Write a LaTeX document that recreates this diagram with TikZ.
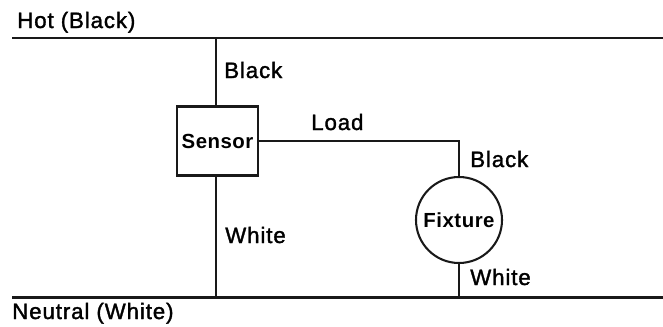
\documentclass[tikz,border=0pt]{standalone}
\usepackage{fontspec}
\setmainfont{Liberation Sans}
\newfontfamily\lblfont[LetterSpace=4,FakeBold=1.5]{Liberation Sans}
\newfontfamily\boxfont[LetterSpace=2.5]{Liberation Sans Bold}
\tikzset{wire/.style={draw=black!90,line width=1.55pt},
lbl/.style={font=\lblfont\fontsize{16.7}{18}\selectfont,inner sep=0pt,anchor=base west},
smalllbl/.style={font=\boxfont\fontsize{15.3}{17}\selectfont,inner sep=0pt}}
\begin{document}
\begin{tikzpicture}[x=0.75pt,y=-0.75pt]
\useasboundingbox (0,0) rectangle (663,326);
\node[wire,draw,line width=1.8pt,minimum width=81*0.75pt,minimum height=69*0.75pt,inner sep=0pt,smalllbl] (sensor) at (217.5,141) {Sensor};
\node[wire,draw,circle,minimum size=86*0.75pt,inner sep=0pt,smalllbl] (fixture) at (459,220) {Fixture};
\coordinate (hl) at (12,38); \coordinate (hr) at (663,38);
\coordinate (nl) at (12,297.5); \coordinate (nr) at (663,297.5);
\coordinate (hs) at (216,38); \coordinate (ns) at (216,297.5);
\coordinate (nf) at (459,297.5); \coordinate (corner) at (459,141);
\draw[wire] (hl) -- (hr);
\draw[wire] (nl) -- (nr);
\draw[wire] (hs) -- (hs |- sensor.north);
\draw[wire] (ns |- sensor.south) -- (ns);
\draw[wire] (sensor.east) -- (corner) -- (fixture.north);
\draw[wire] (fixture.south) -- (nf);
\node[lbl] (t1) at (17,28) {Hot (Black)};
\node[lbl] (t2) at (224,78) {Black};
\node[lbl] (t3) at (311,130) {Load};
\node[lbl] (t4) at (470,167) {Black};
\node[lbl] (t5) at (225,243) {White};
\node[lbl] (t6) at (470,285) {White};
\node[lbl] (t7) at (12,319) {Neutral (White)};
\end{tikzpicture}
\end{document}
